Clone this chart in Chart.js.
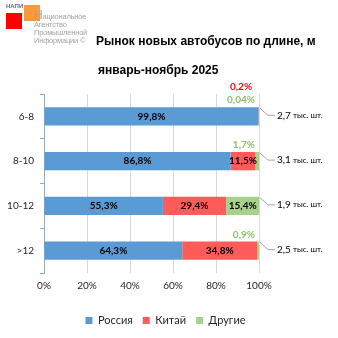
<!DOCTYPE html>
<html>
<head>
<meta charset="utf-8">
<script src="https://cdn.jsdelivr.net/npm/chart.js@4.4.1/dist/chart.umd.min.js"></script>
<style>
  html, body { margin: 0; padding: 0; background: #fff; }
  #wrap { position: relative; width: 338px; height: 338px; overflow: hidden; }
  #myChart { position: absolute; left: 0; top: 0; }
  .sq { position: absolute; width: 16px; height: 16px; }
  .napi { position: absolute; left: 6px; top: 3px; font: bold 6px 'Liberation Sans', Arial, sans-serif; color: #5f6b7a; }
  .org { position: absolute; left: 34px; top: 13px; font: 7.5px/8px 'Liberation Sans Narrow', 'Liberation Sans', sans-serif; color: #a3a3a3; letter-spacing: -0.2px; }
  .org .big { font-size: 12px; line-height: 0; }
  .title { position: absolute; font: bold 12px 'Liberation Sans', Arial, sans-serif; color: #000; white-space: nowrap; }
</style>
</head>
<body>
<div id="wrap">
  <canvas id="myChart" width="338" height="338"></canvas>
  <div class="sq" style="left:24px;top:5px;background:#F79A3E;"></div>
  <div class="sq" style="left:6px;top:13px;background:#FF0000;"></div>
  <div class="napi">НАПИ</div>
  <div class="org"><span class="big">Н</span>ациональное<br>Агентство<br>Промышленной<br>Информации ©</div>
  <div class="title" style="left:96px;top:34px;">Рынок новых автобусов по длине, м</div>
  <div class="title" style="left:98px;top:63px;">январь-ноябрь 2025</div>
</div>
<script>
// data (shares, %)
const categories = ['6-8', '8-10', '10-12', '>12'];
const russia = [99.8, 86.8, 55.3, 64.3];
const china = [0.2, 11.5, 29.4, 34.8];
const others = [0.04, 1.7, 15.4, 0.9];
const totals = [2.7, 3.1, 1.9, 2.5]; // тыс. шт.
const xTicks = [0, 20, 40, 60, 80, 100];

const fmt = (v) => String(v).replace('.', ',');

// labels on bars, small shares above bars, totals on the right
const labelPlugin = {
    id: 'barLabels',
    afterDatasetsDraw(chart) {
        const ctx = chart.ctx;
        const xs = chart.scales.x;
        const xEnd = xs.getPixelForValue(100);
        ctx.save();
        ctx.textBaseline = 'middle';

        chart.data.datasets.forEach((ds, di) => {
            const meta = chart.getDatasetMeta(di);
            meta.data.forEach((bar, i) => {
                const v = ds.data[i];
                if (v < 5) return;
                ctx.font = 'bold 10px Lato';
                ctx.fillStyle = '#000';
                ctx.textAlign = 'center';
                ctx.fillText(fmt(v) + '%', (bar.x + bar.base) / 2, bar.y);
            });
        });

        const bars = chart.getDatasetMeta(0).data;
        bars.forEach((bar, i) => {
            const top = bar.y - bar.height / 2;
            ctx.font = 'bold 10px Lato';
            let greenCenter = xEnd - 18;
            if (others[i] < 5) {
                const t = fmt(others[i]) + '%';
                const w = ctx.measureText(t).width;
                greenCenter = xEnd - 4 - w / 2;
                ctx.fillStyle = '#8CC168';
                ctx.textAlign = 'center';
                ctx.fillText(t, greenCenter, top - 7);
            }
            if (china[i] < 5) {
                ctx.fillStyle = '#FF0000';
                ctx.textAlign = 'center';
                ctx.fillText(fmt(china[i]) + '%', greenCenter, top - 20);
            }

            // leader line
            ctx.strokeStyle = '#A6A6A6';
            ctx.lineWidth = 1;
            ctx.beginPath();
            ctx.moveTo(xEnd + 1, top + 1);
            ctx.lineTo(xEnd + 9, bar.y - 1);
            ctx.lineTo(xEnd + 16, bar.y - 1);
            ctx.stroke();

            // total
            ctx.fillStyle = '#000';
            ctx.textAlign = 'left';
            ctx.font = '10px Lato';
            const a = fmt(totals[i]);
            ctx.fillText(a, xEnd + 18, bar.y - 1);
            const aw = ctx.measureText(a).width;
            ctx.font = '8px Lato';
            ctx.fillText(' тыс. шт.', xEnd + 18 + aw, bar.y - 1);
        });
        ctx.restore();
    }
};

// fixed legend height, legend centred under the whole picture
const legendFit = {
    id: 'legendFit',
    beforeInit(chart) {
        const fit = chart.legend.fit;
        chart.legend.fit = function () {
            fit.bind(this)();
            this.height = 33;
        };
    },
    afterLayout(chart) {
        chart.legend.left += 36;
        chart.legend.right += 36;
    }
};

const ctx = document.getElementById('myChart').getContext('2d');

const myChart = new Chart(ctx, {
    type: 'bar',
    data: {
        labels: categories,
        datasets: [
            { label: 'Россия', data: russia, backgroundColor: '#5B9BD5' },
            { label: 'Китай', data: china, backgroundColor: '#FF5B5B' },
            { label: 'Другие', data: others, backgroundColor: '#A9D18E' }
        ]
    },
    options: {
        indexAxis: 'y',
        responsive: false,
        animation: false,
        layout: { padding: { top: 94, right: 79, left: 0, bottom: 0 } },
        datasets: {
            bar: { barPercentage: 0.41 / 0.9, categoryPercentage: 0.9 }
        },
        scales: {
            x: {
                stacked: true,
                min: 0,
                max: 100,
                afterBuildTicks: (scale) => {
                    scale.ticks = xTicks.map((v) => ({ value: v }));
                },
                afterFit: (scale) => { scale.height = 32; },
                grid: { color: '#D9D9D9', drawTicks: false },
                border: { display: false },
                ticks: {
                    padding: 7,
                    color: '#262626',
                    font: { family: 'Lato', size: 10 },
                    callback: (v) => v + '%'
                }
            },
            y: {
                stacked: true,
                afterFit: (scale) => { scale.width = 44; },
                grid: { drawOnChartArea: false, color: '#8FA9C6', tickLength: 4 },
                border: { color: '#8FA9C6' },
                ticks: {
                    padding: 6,
                    color: '#262626',
                    font: { family: 'Lato', size: 10 }
                }
            }
        },
        plugins: {
            legend: {
                position: 'bottom',
                labels: {
                    boxWidth: 7,
                    boxHeight: 7,
                    padding: 10,
                    color: '#262626',
                    font: { family: 'Lato', size: 11 }
                }
            },
            tooltip: { enabled: false }
        }
    },
    plugins: [labelPlugin, legendFit]
});
</script>
</body>
</html>
